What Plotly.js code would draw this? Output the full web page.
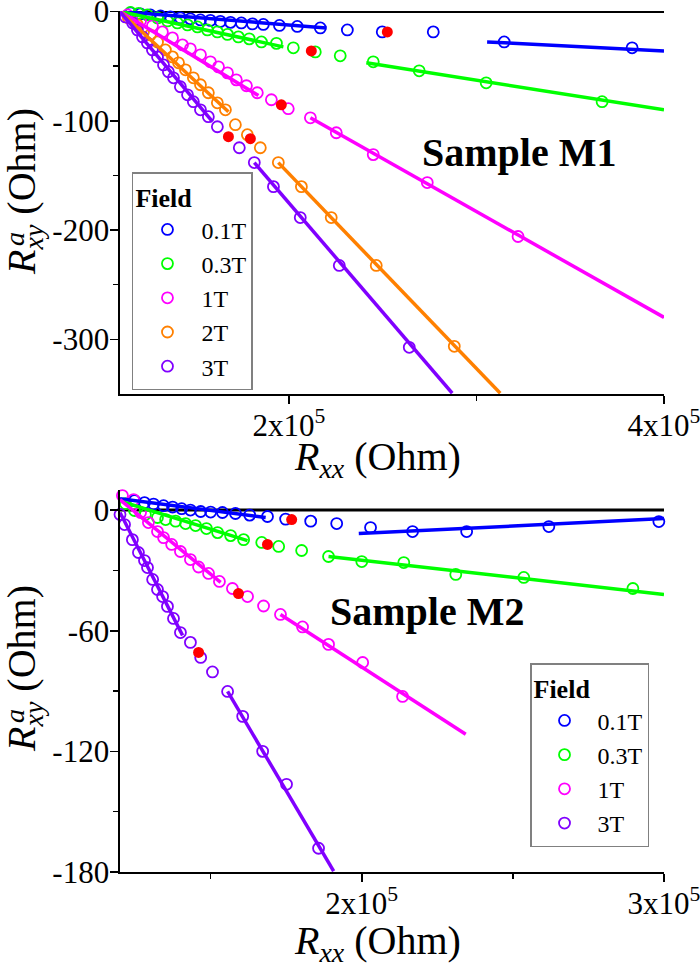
<!DOCTYPE html>
<html><head><meta charset="utf-8">
<script src="https://cdn.plot.ly/plotly-3.0.1.min.js"></script>
<style>html,body{margin:0;padding:0;background:#fff}#chart{width:700px;height:967px}</style>
</head><body><div id="chart"></div>
<script>
// ---------- Sample M1 (top panel) ----------
const m1_fields = ['0.1T', '0.3T', '1T', '2T', '3T'];

const m1_x_01 = [115600,120900,126200,131600,136900,142200,147500,152900,158200,163500,168900,174700,180600,186400,195000,204500,216800,231200,249800,277000,314800,383000];
const m1_y_01 = [-1.4,-2.3,-3.2,-4.1,-5.0,-5.9,-6.8,-7.8,-8.2,-9.1,-10.0,-10.5,-11.4,-11.9,-12.8,-13.7,-15.1,-16.9,-18.7,-18.7,-27.9,-33.3];

const m1_x_03 = [115600,119900,124600,130000,135300,140600,146000,151300,156600,161900,167300,173100,178900,185400,193400,202400,214100,227400,245000,269500,305200,367000];
const m1_y_03 = [-0.9,-1.8,-3.2,-5.9,-8.7,-10.5,-12.3,-14.2,-16.9,-18.7,-21.0,-23.3,-25.1,-27.9,-29.2,-33.3,-37.0,-40.6,-46.1,-54.3,-65.3,-82.6];

const m1_x_1 = [114000,120900,127300,132600,138000,143300,147500,152900,158200,162500,167300,172000,177400,183200,190700,199700,211500,225300,245000,273800,322200];
const m1_y_1 = [-3.2,-8.7,-13.2,-18.7,-24.2,-30.6,-34.2,-39.7,-46.1,-50.7,-56.2,-62.6,-68.0,-74.4,-80.8,-89.0,-97.3,-111.0,-131.0,-156.6,-205.9];

const m1_x_2 = [114500,119300,122500,126200,130000,134200,138000,141200,144900,149100,152900,157100,161900,166200,171500,177900,184800,194400,206700,222600,246600,288200];
const m1_y_2 = [-5.9,-12.3,-18.7,-21.5,-27.9,-35.2,-41.6,-47.0,-53.4,-60.7,-67.1,-74.4,-83.6,-90.0,-103.6,-112.8,-124.7,-138.3,-160.3,-188.6,-232.4,-306.4];

const m1_x_3 = [112900,116700,119300,122000,124600,127300,130000,133200,135800,138500,142200,146000,149100,152900,157100,161900,173600,181600,191800,206100,226900,264200];
const m1_y_3 = [-5.0,-10.5,-16.9,-23.3,-28.8,-35.2,-41.6,-48.9,-55.2,-60.7,-68.9,-76.3,-82.6,-90.0,-96.3,-105.5,-124.7,-138.3,-160.3,-188.6,-232.4,-307.3];

// highlighted (red) points
const m1_red_x = [252500, 212000, 196000, 179500, 167800];
const m1_red_y = [-18.7, -36.1, -85.4, -116.4, -114.6];

// linear fit segments [x0, x1], [y0, y1]
const m1_fit_01_a_x = [110000, 220000], m1_fit_01_a_y = [0, -15.1];
const m1_fit_01_b_x = [305700, 400000], m1_fit_01_b_y = [-27.9, -36.1];
const m1_fit_03_a_x = [110000, 197100], m1_fit_03_a_y = [0, -32.4];
const m1_fit_03_b_x = [241300, 400000], m1_fit_03_b_y = [-47.0, -90.0];
const m1_fit_1_a_x = [110000, 183800], m1_fit_1_a_y = [0, -77.0];
const m1_fit_1_b_x = [211500, 400000], m1_fit_1_b_y = [-97.3, -279.9];
const m1_fit_2_a_x = [110000, 167800], m1_fit_2_a_y = [0, -91.8];
const m1_fit_2_b_x = [194400, 312700], m1_fit_2_b_y = [-138.3, -349.3];
const m1_fit_3_a_x = [110000, 159300], m1_fit_3_a_y = [0, -100.9];
const m1_fit_3_b_x = [181600, 287100], m1_fit_3_b_y = [-138.3, -349.3];
const m1_zero_x = [110000, 400000], m1_zero_y = [0, 0];

// ---------- Sample M2 (bottom panel) ----------
const m2_fields = ['0.1T', '0.3T', '1T', '3T'];

const m2_x_01 = [124800,128100,131100,134400,137400,140400,143300,146700,150000,153900,158200,162900,168800,174800,183100,191700,202900,216800,234700,261900,298300];
const m2_y_01 = [4.7,3.7,3.0,2.2,1.5,0.7,0,-0.7,-1.0,-1.2,-1.7,-2.5,-3.2,-4.5,-5.5,-6.7,-8.7,-10.7,-10.7,-8.2,-5.7];

const m2_x_03 = [121800,124800,128400,132400,135100,138400,141700,145000,148600,152300,156600,160900,166900,172500,180100,189000,200000,213900,231100,253600,289700];
const m2_y_03 = [3.2,-0.2,-2.2,-3.7,-4.7,-5.5,-6.7,-7.7,-9.2,-11.2,-12.7,-14.7,-16.1,-18.1,-20.1,-23.1,-25.6,-26.1,-32.0,-33.5,-39.0];

const m2_x_1 = [120800,124500,126800,129400,132400,134400,137100,140000,143300,146000,149300,152900,157200,162200,167500,173100,180400,189000,200300,213500];
const m2_y_1 = [7.2,5.2,-1.2,-6.2,-10.7,-13.7,-17.1,-20.6,-24.6,-28.3,-31.5,-35.5,-39.0,-43.0,-47.7,-51.9,-58.1,-66.8,-75.8,-92.7];

const m2_x_3 = [120000,121500,124100,126100,128100,129100,130800,132400,134100,135700,137700,140000,143300,146700,150600,155600,160600,167200,175100,185700];
const m2_y_3 = [-2.2,-7.2,-14.7,-21.1,-25.1,-28.6,-34.5,-39.5,-43.0,-47.9,-53.9,-60.9,-65.8,-73.3,-80.5,-90.2,-102.6,-120.0,-136.4,-168.2];

const m2_red_x = [176800, 168800, 159200, 146000];
const m2_red_y = [-4.7, -17.1, -41.5, -70.8];

const m2_fit_01_a_x = [120000, 168200], m2_fit_01_a_y = [5.7, -3.7];
const m2_fit_01_b_x = [199000, 300000], m2_fit_01_b_y = [-11.7, -4.2];
const m2_fit_03_a_x = [120000, 162200], m2_fit_03_a_y = [4.5, -15.2];
const m2_fit_03_b_x = [189000, 300000], m2_fit_03_b_y = [-23.1, -42.0];
const m2_fit_1_a_x = [120000, 153300], m2_fit_1_a_y = [5.2, -36.0];
const m2_fit_1_b_x = [173100, 234400], m2_fit_1_b_y = [-51.9, -111.5];
const m2_fit_3_a_x = [120000, 140700], m2_fit_3_a_y = [-1.2, -62.3];
const m2_fit_3_b_x = [155600, 190700], m2_fit_3_b_y = [-90.2, -179.6];
const m2_zero_x = [120000, 300000], m2_zero_y = [0, 0];

// tick labels
const m1_xtickvals = [200000, 400000], m1_xticktext = ['2x10<sup>5</sup>', '4x10<sup>5</sup>'];
const m1_ytickvals = [-300, -200, -100, 0], m1_yticktext = ['-300', '-200', '-100', '0'];
const m2_xtickvals = [200000, 300000], m2_xticktext = ['2x10<sup>5</sup>', '3x10<sup>5</sup>'];
const m2_ytickvals = [-180, -120, -60, 0], m2_yticktext = ['-180', '-120', '-60', '0'];

// ---------- styling ----------
const FONT = '"Liberation Serif", "Times New Roman", Times, serif';
const C = {'0.1T': '#0000ff', '0.3T': '#00ff00', '1T': '#ff00ff', '2T': '#ff8000', '3T': '#8000ff'};
const traces = [];

function zero(x, y, xa, ya) {
  traces.push({x: x, y: y, xaxis: xa, yaxis: ya, mode: 'lines', line: {color: '#000', width: 3}, showlegend: false, hoverinfo: 'skip', cliponaxis: false});
}
function pts(x, y, name, xa, ya, leg) {
  traces.push({x: x, y: y, name: name, xaxis: xa, yaxis: ya, legend: leg, mode: 'markers', type: 'scatter',
    marker: {symbol: 'circle-open', size: 11, color: C[name], line: {width: 1.8, color: C[name]}}, cliponaxis: false});
}
function fit(x, y, name, xa, ya) {
  traces.push({x: x, y: y, xaxis: xa, yaxis: ya, mode: 'lines', line: {color: C[name], width: 3.5}, showlegend: false, hoverinfo: 'skip'});
}
function red(x, y, xa, ya) {
  traces.push({x: x, y: y, xaxis: xa, yaxis: ya, mode: 'markers', marker: {symbol: 'circle', size: 11, color: '#ff0000'}, showlegend: false, cliponaxis: false});
}

zero(m1_zero_x, m1_zero_y, 'x', 'y');
zero(m2_zero_x, m2_zero_y, 'x2', 'y2');

pts(m1_x_01, m1_y_01, m1_fields[0], 'x', 'y', 'legend');
pts(m1_x_03, m1_y_03, m1_fields[1], 'x', 'y', 'legend');
pts(m1_x_1, m1_y_1, m1_fields[2], 'x', 'y', 'legend');
pts(m1_x_2, m1_y_2, m1_fields[3], 'x', 'y', 'legend');
pts(m1_x_3, m1_y_3, m1_fields[4], 'x', 'y', 'legend');

pts(m2_x_01, m2_y_01, m2_fields[0], 'x2', 'y2', 'legend2');
pts(m2_x_03, m2_y_03, m2_fields[1], 'x2', 'y2', 'legend2');
pts(m2_x_1, m2_y_1, m2_fields[2], 'x2', 'y2', 'legend2');
pts(m2_x_3, m2_y_3, m2_fields[3], 'x2', 'y2', 'legend2');

fit(m1_fit_01_a_x, m1_fit_01_a_y, '0.1T', 'x', 'y'); fit(m1_fit_01_b_x, m1_fit_01_b_y, '0.1T', 'x', 'y');
fit(m1_fit_03_a_x, m1_fit_03_a_y, '0.3T', 'x', 'y'); fit(m1_fit_03_b_x, m1_fit_03_b_y, '0.3T', 'x', 'y');
fit(m1_fit_1_a_x, m1_fit_1_a_y, '1T', 'x', 'y'); fit(m1_fit_1_b_x, m1_fit_1_b_y, '1T', 'x', 'y');
fit(m1_fit_2_a_x, m1_fit_2_a_y, '2T', 'x', 'y'); fit(m1_fit_2_b_x, m1_fit_2_b_y, '2T', 'x', 'y');
fit(m1_fit_3_a_x, m1_fit_3_a_y, '3T', 'x', 'y'); fit(m1_fit_3_b_x, m1_fit_3_b_y, '3T', 'x', 'y');

fit(m2_fit_01_a_x, m2_fit_01_a_y, '0.1T', 'x2', 'y2'); fit(m2_fit_01_b_x, m2_fit_01_b_y, '0.1T', 'x2', 'y2');
fit(m2_fit_03_a_x, m2_fit_03_a_y, '0.3T', 'x2', 'y2'); fit(m2_fit_03_b_x, m2_fit_03_b_y, '0.3T', 'x2', 'y2');
fit(m2_fit_1_a_x, m2_fit_1_a_y, '1T', 'x2', 'y2'); fit(m2_fit_1_b_x, m2_fit_1_b_y, '1T', 'x2', 'y2');
fit(m2_fit_3_a_x, m2_fit_3_a_y, '3T', 'x2', 'y2'); fit(m2_fit_3_b_x, m2_fit_3_b_y, '3T', 'x2', 'y2');

red(m1_red_x, m1_red_y, 'x', 'y');
red(m2_red_x, m2_red_y, 'x2', 'y2');

const axisBase = {
  showline: true, linecolor: '#000', linewidth: 1.6, mirror: false,
  ticks: 'outside', ticklen: 8, tickwidth: 1.6, tickcolor: '#000',
  showgrid: false, zeroline: false, tickmode: 'array', ticklabeloverflow: 'allow',
  tickfont: {family: FONT, size: 31, color: '#000'}
};
const xTitle = '<i>R</i><sub><i>xx</i></sub> (Ohm)';
const yTitleMain = '<i>R</i><sub><i>xy</i></sub> (Ohm)';
const yTitleSup = '<i>a</i>';

function ann(text, x, y, xshift, size, angle) {
  return {text: text, xref: 'paper', yref: 'paper', x: x, y: y, xshift: xshift, showarrow: false,
          xanchor: 'center', yanchor: 'middle', textangle: angle, font: {family: FONT, size: size, color: '#000'}};
}

const layout = {
  width: 700, height: 967,
  margin: {l: 120, r: 36, t: 11, b: 95},
  paper_bgcolor: '#fff', plot_bgcolor: '#fff',
  font: {family: FONT, color: '#000'},
  xaxis: Object.assign({}, axisBase, {domain: [0, 1], anchor: 'y', range: [110000, 400000],
    tickvals: m1_xtickvals, ticktext: m1_xticktext, ticklabelstandoff: -5,
    minor: {tickmode: 'array', tickvals: [300000], ticks: 'outside', ticklen: 5, tickwidth: 1.4, tickcolor: '#000', showgrid: false}}),
  yaxis: Object.assign({}, axisBase, {domain: [0.5552, 1], anchor: 'x', range: [-350, 0.4],
    tickvals: m1_ytickvals, ticktext: m1_yticktext, ticklabelstandoff: -5,
    minor: {tickmode: 'array', tickvals: [-250, -150, -50], ticks: 'outside', ticklen: 5, tickwidth: 1.4, tickcolor: '#000', showgrid: false}}),
  xaxis2: Object.assign({}, axisBase, {domain: [0, 1], anchor: 'y2', range: [120000, 300000],
    tickvals: m2_xtickvals, ticktext: m2_xticktext, ticklabelstandoff: -5,
    minor: {tickmode: 'array', tickvals: [150000, 250000], ticks: 'outside', ticklen: 5, tickwidth: 1.4, tickcolor: '#000', showgrid: false}}),
  yaxis2: Object.assign({}, axisBase, {domain: [0, 0.4437], anchor: 'x2', range: [-180, 10],
    tickvals: m2_ytickvals, ticktext: m2_yticktext, ticklabelstandoff: -5,
    minor: {tickmode: 'array', tickvals: [-150, -90, -30], ticks: 'outside', ticklen: 5, tickwidth: 1.4, tickcolor: '#000', showgrid: false}}),
  legend: {x: 0.022, y: 0.813, xanchor: 'left', yanchor: 'top', bgcolor: '#fff',
    bordercolor: '#808080', borderwidth: 1.5, itemwidth: 58, tracegroupgap: 0,
    font: {family: FONT, size: 24, color: '#000'},
    title: {text: '<b>Field</b>', font: {family: FONT, size: 26, color: '#000'}}},
  legend2: {x: 0.7537, y: 0.2427, xanchor: 'left', yanchor: 'top', bgcolor: '#fff',
    bordercolor: '#808080', borderwidth: 1.5, itemwidth: 56, tracegroupgap: 0,
    font: {family: FONT, size: 24, color: '#000'},
    title: {text: '<b>Field</b>', font: {family: FONT, size: 26, color: '#000'}}},
  annotations: [
    {text: '<b>Sample M1</b>', xref: 'x', yref: 'y', x: 322800, y: -129, showarrow: false,
     font: {family: FONT, size: 40, color: '#000'}},
    {text: '<b>Sample M2</b>', xref: 'x2', yref: 'y2', x: 221500, y: -50.4, showarrow: false,
     font: {family: FONT, size: 40, color: '#000'}},
    // x-axis titles
    ann(xTitle, 0.474, 0.4797, 0, 40, 0),
    ann(xTitle, 0.474, -0.0825, 0, 40, 0),
    // y-axis titles (R with stacked a / xy)
    ann(yTitleMain, 0, 0.7898, -96, 40, -90),
    ann(yTitleSup, 0, 0.7352, -105, 28, -90),
    ann(yTitleMain, 0, 0.2358, -96, 40, -90),
    ann(yTitleSup, 0, 0.1812, -105, 28, -90)
  ],
  showlegend: true
};

Plotly.newPlot('chart', traces, layout, {staticPlot: true, displayModeBar: false});
</script>
</body></html>
